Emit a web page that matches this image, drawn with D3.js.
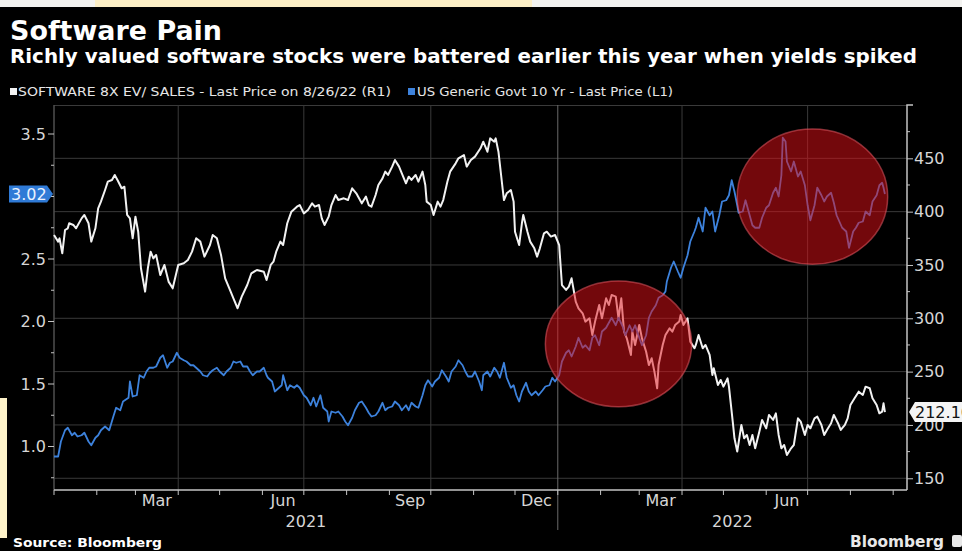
<!DOCTYPE html>
<html lang="en">
<head>
<meta charset="utf-8">
<title>Software Pain</title>
<script src="https://cdn.jsdelivr.net/npm/d3@7"></script>
<style>
  body { margin: 0; background: #000; }
  svg { display: block; }
</style>
</head>
<body>
<svg id="chart" width="962" height="551"></svg>
<script>

//DATA
//software 8x EV/sales basket, right axis
var software = [
  ["2021-01-01",378.1],["2021-01-04",371.9],["2021-01-05",375.0],["2021-01-07",360.9],["2021-01-09",382.8],["2021-01-11",384.4],
  ["2021-01-12",389.1],["2021-01-15",387.5],["2021-01-17",384.4],["2021-01-21",393.7],["2021-01-23",396.9],["2021-01-26",389.1],
  ["2021-01-28",371.9],["2021-01-31",384.4],["2021-02-02",403.1],["2021-02-04",409.4],["2021-02-07",420.3],["2021-02-09",428.1],
  ["2021-02-12",429.7],["2021-02-14",434.4],["2021-02-16",429.7],["2021-02-19",421.9],["2021-02-21",423.4],["2021-02-23",396.9],
  ["2021-02-25",393.7],["2021-02-27",375.0],["2021-03-01",395.3],["2021-03-03",381.2],["2021-03-05",346.9],["2021-03-08",325.0],
  ["2021-03-10",346.9],["2021-03-12",362.5],["2021-03-14",356.2],["2021-03-16",359.4],["2021-03-19",340.6],["2021-03-22",350.0],
  ["2021-03-25",334.4],["2021-03-28",328.1],["2021-04-01",350.0],["2021-04-05",351.6],["2021-04-08",354.7],["2021-04-11",362.5],
  ["2021-04-14",375.0],["2021-04-17",371.9],["2021-04-20",357.8],["2021-04-24",368.7],["2021-04-26",378.1],["2021-04-29",375.0],
  ["2021-05-02",359.4],["2021-05-05",337.5],["2021-05-09",325.0],["2021-05-11",318.7],["2021-05-14",309.4],["2021-05-17",320.3],
  ["2021-05-21",331.2],["2021-05-24",342.2],["2021-05-28",345.3],["2021-06-02",343.7],["2021-06-04",335.9],["2021-06-07",350.0],
  ["2021-06-09",353.1],["2021-06-11",362.5],["2021-06-14",371.9],["2021-06-16",368.7],["2021-06-19",389.1],["2021-06-22",400.0],
  ["2021-06-26",404.7],["2021-06-28",406.2],["2021-07-01",398.4],["2021-07-04",401.6],["2021-07-07",407.8],["2021-07-09",404.7],
  ["2021-07-12",406.2],["2021-07-14",393.7],["2021-07-16",387.5],["2021-07-19",395.3],["2021-07-21",406.2],["2021-07-24",415.6],
  ["2021-07-26",410.9],["2021-07-30",412.5],["2021-08-02",410.9],["2021-08-05",421.9],["2021-08-08",417.2],["2021-08-10",412.5],
  ["2021-08-12",407.8],["2021-08-15",414.1],["2021-08-17",406.2],["2021-08-19",404.7],["2021-08-22",415.6],["2021-08-24",425.0],
  ["2021-08-27",431.2],["2021-08-29",437.5],["2021-08-31",434.4],["2021-09-03",442.2],["2021-09-05",448.4],["2021-09-08",442.2],
  ["2021-09-10",435.9],["2021-09-13",426.6],["2021-09-15",432.8],["2021-09-17",429.7],["2021-09-20",434.4],["2021-09-22",428.1],
  ["2021-09-25",437.5],["2021-09-27",425.0],["2021-09-28",409.4],["2021-10-01",406.2],["2021-10-03",396.9],["2021-10-06",409.4],
  ["2021-10-08",404.7],["2021-10-10",410.9],["2021-10-13",428.1],["2021-10-15",437.5],["2021-10-19",445.3],["2021-10-21",450.0],
  ["2021-10-25",453.1],["2021-10-27",442.2],["2021-10-30",448.4],["2021-11-02",451.6],["2021-11-06",459.4],["2021-11-08",465.6],
  ["2021-11-11",456.2],["2021-11-13",468.7],["2021-11-16",465.6],["2021-11-17",468.7],["2021-11-19",456.2],["2021-11-22",421.9],
  ["2021-11-23",410.9],["2021-11-25",417.2],["2021-11-28",420.3],["2021-11-30",409.4],["2021-12-01",381.2],["2021-12-04",368.7],
  ["2021-12-06",389.1],["2021-12-07",396.9],["2021-12-10",381.2],["2021-12-12",371.9],["2021-12-15",365.6],["2021-12-17",357.8],
  ["2021-12-19",365.6],["2021-12-22",379.7],["2021-12-24",381.2],["2021-12-27",376.6],["2021-12-30",378.1],["2022-01-02",368.7],
  ["2022-01-04",331.2],["2022-01-07",326.6],["2022-01-09",329.7],["2022-01-11",337.5],["2022-01-14",315.6],["2022-01-16",309.4],
  ["2022-01-19",304.7],["2022-01-21",296.9],["2022-01-24",300.0],["2022-01-26",284.4],["2022-01-28",296.9],["2022-01-31",312.5],
  ["2022-02-02",300.0],["2022-02-05",318.7],["2022-02-07",312.5],["2022-02-09",321.9],["2022-02-12",320.3],["2022-02-14",300.0],
  ["2022-02-16",318.7],["2022-02-18",287.5],["2022-02-20",281.2],["2022-02-23",265.6],["2022-02-24",287.5],["2022-02-26",275.0],
  ["2022-03-01",293.7],["2022-03-03",281.2],["2022-03-06",268.7],["2022-03-08",256.2],["2022-03-10",262.5],["2022-03-12",250.0],
  ["2022-03-14",234.4],["2022-03-15",256.2],["2022-03-18",275.0],["2022-03-20",284.4],["2022-03-23",290.6],["2022-03-25",287.5],
  ["2022-03-27",293.7],["2022-03-30",296.9],["2022-03-31",303.1],["2022-04-02",293.7],["2022-04-05",300.0],["2022-04-07",278.1],
  ["2022-04-10",271.9],["2022-04-11",275.0],["2022-04-13",284.4],["2022-04-16",271.9],["2022-04-18",275.0],["2022-04-21",265.6],
  ["2022-04-23",246.9],["2022-04-24",253.1],["2022-04-27",237.5],["2022-04-29",242.2],["2022-05-01",235.9],["2022-05-04",243.7],
  ["2022-05-05",235.9],["2022-05-08",200.0],["2022-05-09",187.5],["2022-05-11",175.0],["2022-05-14",200.0],["2022-05-16",187.5],
  ["2022-05-18",190.6],["2022-05-20",181.2],["2022-05-22",190.6],["2022-05-24",178.1],["2022-05-27",193.7],["2022-05-29",204.7],
  ["2022-06-01",196.9],["2022-06-03",209.4],["2022-06-06",204.7],["2022-06-08",210.9],["2022-06-10",190.6],["2022-06-12",178.1],
  ["2022-06-14",181.2],["2022-06-16",171.9],["2022-06-19",178.1],["2022-06-21",181.2],["2022-06-24",206.2],["2022-06-26",203.1],
  ["2022-06-29",190.6],["2022-07-01",200.0],["2022-07-03",196.9],["2022-07-06",206.2],["2022-07-08",207.8],["2022-07-11",200.0],
  ["2022-07-13",190.6],["2022-07-15",195.3],["2022-07-18",201.6],["2022-07-20",209.4],["2022-07-23",201.6],["2022-07-25",195.3],
  ["2022-07-28",200.0],["2022-07-30",206.2],["2022-08-01",218.7],["2022-08-04",225.0],["2022-08-07",231.2],["2022-08-10",228.1],
  ["2022-08-12",235.9],["2022-08-15",234.4],["2022-08-17",225.0],["2022-08-20",218.7],["2022-08-22",210.9],["2022-08-24",212.5],
  ["2022-08-25",220.3],["2022-08-26",212.1]
];

//US generic govt 10 yr yield, left axis
var yields = [
  ["2021-01-01",0.92],["2021-01-04",0.92],["2021-01-06",1.04],["2021-01-09",1.13],["2021-01-11",1.15],["2021-01-14",1.09],
  ["2021-01-16",1.11],["2021-01-18",1.08],["2021-01-21",1.09],["2021-01-23",1.11],["2021-01-26",1.04],["2021-01-28",1.01],
  ["2021-01-31",1.07],["2021-02-02",1.09],["2021-02-04",1.13],["2021-02-07",1.16],["2021-02-10",1.13],["2021-02-13",1.24],
  ["2021-02-15",1.31],["2021-02-18",1.29],["2021-02-20",1.36],["2021-02-24",1.39],["2021-02-25",1.52],["2021-02-27",1.40],
  ["2021-03-02",1.41],["2021-03-04",1.57],["2021-03-07",1.55],["2021-03-09",1.60],["2021-03-11",1.63],["2021-03-14",1.63],
  ["2021-03-16",1.64],["2021-03-19",1.71],["2021-03-21",1.73],["2021-03-24",1.63],["2021-03-26",1.67],["2021-03-28",1.68],
  ["2021-03-31",1.75],["2021-04-02",1.71],["2021-04-05",1.69],["2021-04-07",1.68],["2021-04-10",1.65],["2021-04-12",1.65],
  ["2021-04-14",1.63],["2021-04-17",1.60],["2021-04-19",1.57],["2021-04-22",1.56],["2021-04-24",1.59],["2021-04-26",1.61],
  ["2021-04-29",1.63],["2021-05-01",1.60],["2021-05-04",1.57],["2021-05-06",1.60],["2021-05-09",1.63],["2021-05-11",1.68],
  ["2021-05-13",1.67],["2021-05-16",1.68],["2021-05-18",1.64],["2021-05-21",1.64],["2021-05-23",1.60],["2021-05-25",1.57],
  ["2021-05-28",1.60],["2021-05-30",1.60],["2021-06-02",1.63],["2021-06-04",1.57],["2021-06-05",1.55],["2021-06-08",1.52],
  ["2021-06-10",1.44],["2021-06-13",1.47],["2021-06-15",1.49],["2021-06-16",1.57],["2021-06-19",1.45],["2021-06-21",1.49],
  ["2021-06-24",1.47],["2021-06-26",1.49],["2021-06-28",1.47],["2021-07-01",1.41],["2021-07-03",1.39],["2021-07-06",1.33],
  ["2021-07-08",1.39],["2021-07-10",1.32],["2021-07-13",1.41],["2021-07-15",1.31],["2021-07-18",1.28],["2021-07-19",1.20],
  ["2021-07-21",1.28],["2021-07-24",1.27],["2021-07-26",1.28],["2021-07-29",1.24],["2021-07-31",1.20],["2021-08-02",1.17],
  ["2021-08-05",1.23],["2021-08-07",1.29],["2021-08-10",1.35],["2021-08-12",1.36],["2021-08-15",1.31],["2021-08-17",1.27],
  ["2021-08-19",1.24],["2021-08-22",1.25],["2021-08-24",1.28],["2021-08-27",1.35],["2021-08-29",1.29],["2021-08-31",1.31],
  ["2021-09-03",1.32],["2021-09-05",1.36],["2021-09-08",1.33],["2021-09-10",1.29],["2021-09-13",1.33],["2021-09-15",1.29],
  ["2021-09-17",1.35],["2021-09-20",1.32],["2021-09-22",1.31],["2021-09-25",1.41],["2021-09-27",1.49],["2021-09-29",1.53],
  ["2021-10-02",1.48],["2021-10-04",1.52],["2021-10-07",1.55],["2021-10-09",1.61],["2021-10-12",1.56],["2021-10-14",1.52],
  ["2021-10-16",1.60],["2021-10-19",1.64],["2021-10-21",1.69],["2021-10-24",1.65],["2021-10-26",1.60],["2021-10-28",1.56],
  ["2021-10-31",1.56],["2021-11-02",1.60],["2021-11-05",1.52],["2021-11-07",1.45],["2021-11-08",1.57],["2021-11-11",1.60],
  ["2021-11-13",1.56],["2021-11-16",1.63],["2021-11-18",1.60],["2021-11-20",1.55],["2021-11-23",1.67],["2021-11-25",1.55],
  ["2021-11-28",1.47],["2021-11-30",1.49],["2021-12-02",1.41],["2021-12-04",1.36],["2021-12-06",1.44],["2021-12-09",1.51],
  ["2021-12-11",1.44],["2021-12-13",1.41],["2021-12-16",1.44],["2021-12-18",1.41],["2021-12-21",1.45],["2021-12-23",1.48],
  ["2021-12-26",1.49],["2021-12-28",1.55],["2021-12-30",1.52],["2022-01-02",1.57],["2022-01-04",1.68],["2022-01-07",1.75],
  ["2022-01-09",1.77],["2022-01-11",1.72],["2022-01-14",1.80],["2022-01-16",1.87],["2022-01-19",1.79],["2022-01-21",1.81],
  ["2022-01-24",1.77],["2022-01-26",1.87],["2022-01-28",1.89],["2022-01-31",1.81],["2022-02-02",1.92],["2022-02-05",1.95],
  ["2022-02-07",1.99],["2022-02-09",2.03],["2022-02-12",1.97],["2022-02-14",2.03],["2022-02-17",1.96],["2022-02-19",1.89],
  ["2022-02-22",1.97],["2022-02-24",1.92],["2022-02-26",1.97],["2022-03-01",1.87],["2022-03-03",1.81],["2022-03-06",1.89],
  ["2022-03-08",2.03],["2022-03-10",2.08],["2022-03-13",2.13],["2022-03-15",2.19],["2022-03-18",2.21],["2022-03-20",2.24],
  ["2022-03-21",2.32],["2022-03-24",2.43],["2022-03-26",2.48],["2022-03-29",2.40],["2022-03-31",2.35],["2022-04-02",2.43],
  ["2022-04-05",2.53],["2022-04-07",2.64],["2022-04-10",2.72],["2022-04-11",2.75],["2022-04-13",2.83],["2022-04-16",2.72],
  ["2022-04-18",2.91],["2022-04-21",2.85],["2022-04-23",2.88],["2022-04-25",2.72],["2022-04-28",2.85],["2022-04-30",2.96],
  ["2022-05-03",2.97],["2022-05-05",3.01],["2022-05-07",3.13],["2022-05-09",3.04],["2022-05-11",2.93],["2022-05-12",2.87],
  ["2022-05-15",2.88],["2022-05-17",2.97],["2022-05-20",2.85],["2022-05-22",2.77],["2022-05-24",2.75],["2022-05-27",2.75],
  ["2022-05-29",2.83],["2022-06-01",2.91],["2022-06-03",2.93],["2022-06-06",3.03],["2022-06-08",3.07],["2022-06-10",3.00],
  ["2022-06-12",3.17],["2022-06-13",3.47],["2022-06-15",3.44],["2022-06-16",3.28],["2022-06-19",3.20],["2022-06-21",3.28],
  ["2022-06-24",3.16],["2022-06-26",3.20],["2022-06-29",3.09],["2022-07-01",2.93],["2022-07-03",2.81],["2022-07-06",2.93],
  ["2022-07-08",3.07],["2022-07-11",3.01],["2022-07-13",2.96],["2022-07-15",3.00],["2022-07-18",3.03],["2022-07-20",2.95],
  ["2022-07-22",2.85],["2022-07-24",2.80],["2022-07-26",2.75],["2022-07-29",2.72],["2022-07-31",2.59],["2022-08-03",2.72],
  ["2022-08-05",2.75],["2022-08-07",2.79],["2022-08-10",2.80],["2022-08-12",2.88],["2022-08-15",2.85],["2022-08-17",2.96],
  ["2022-08-20",3.01],["2022-08-22",3.09],["2022-08-24",3.11],["2022-08-25",3.07],["2022-08-26",3.02]
];

//tick labels (3.0 sits under the last-value tag, so it only gets a tick)
var LEFT_TICKS = [1.0, 1.5, 2.0, 2.5, 3.5];
var LEFT_MINOR = [0.75, 1.25, 1.75, 2.25, 2.75, 3.0, 3.25];
var RIGHT_TICKS = [150, 200, 250, 300, 350, 400, 450];
var RIGHT_MINOR = [175, 225, 275, 325, 375, 425, 475];
var MONTH_LABELS = [["2021-03", "Mar"], ["2021-06", "Jun"], ["2021-09", "Sep"], ["2021-12", "Dec"], ["2022-03", "Mar"], ["2022-06", "Jun"]];
var YEAR_LABELS = [["2021", "2021-01-01", "2022-01-01"], ["2022", "2022-01-01", "2022-09-11"]];

//red circles drawn on top: date span and right-axis value span
var HIGHLIGHTS = [
  {from: "2021-12-23", to: "2022-04-08", low: 217, high: 335},
  {from: "2022-05-11", to: "2022-08-28", low: 350.6, high: 477.5}
];

//text
var TITLE = "Software Pain";
var SUBTITLE = "Richly valued software stocks were battered earlier this year when yields spiked";
var LEGEND = ["SOFTWARE 8X EV/ SALES - Last Price on 8/26/22 (R1)", "US Generic Govt 10 Yr - Last Price (L1)"];

//CONSTANTS
var LEFT = 54, RIGHT = 907, TOP = 105, BOTTOM = 490;
var WHITE = "#f2f2f2";
var BLUE = "#3d82dc";
var GRID = "#3a3a3a";
var AXIS = "#c4c4c4";
var LABEL = "#d6d6d6";
var FONT = "'DejaVu Sans', Verdana, sans-serif";

var parse = d3.timeParse("%Y-%m-%d");
var svg = d3.select("#chart");

//scales
var x = d3.scaleTime()
  .domain([parse("2021-01-01"), parse("2022-09-11")])
  .range([LEFT, RIGHT]);
var yL = d3.scaleLinear().domain([0.652, 3.732]).range([BOTTOM, TOP]);
var yR = d3.scaleLinear().domain([139, 500]).range([BOTTOM, TOP]);

//page edges (cream/yellow strips around the black panel)
svg.append("rect").attr("x", 0).attr("y", 0).attr("width", 962).attr("height", 551).attr("fill", "#000");
svg.append("rect").attr("x", 0).attr("y", 0).attr("width", 962).attr("height", 7).attr("fill", "#f3f3f1");
svg.append("rect").attr("x", 95).attr("y", 0).attr("width", 437).attr("height", 7).attr("fill", "#fcefc6");
svg.append("rect").attr("x", 0).attr("y", 398).attr("width", 7).attr("height", 140).attr("fill", "#fdf2c9");

//titles
svg.append("text").attr("x", 10).attr("y", 40)
  .attr("textLength", 212).attr("lengthAdjust", "spacingAndGlyphs")
  .style("font", "bold 26px " + FONT).attr("fill", "#fff").text(TITLE);
svg.append("text").attr("x", 10).attr("y", 63)
  .attr("textLength", 907).attr("lengthAdjust", "spacingAndGlyphs")
  .style("font", "bold 20px " + FONT).attr("fill", "#fff").text(SUBTITLE);

//legend
var legendX = [[10, 18, 373, WHITE], [408, 417, 256, BLUE]];
legendX.forEach(function (l, i) {
  svg.append("rect").attr("x", l[0]).attr("y", 88).attr("width", 7).attr("height", 7).attr("fill", l[3]);
  svg.append("text").attr("x", l[1]).attr("y", 96)
    .attr("textLength", l[2]).attr("lengthAdjust", "spacingAndGlyphs")
    .style("font", "12px " + FONT).attr("fill", "#e6e6e6").text(LEGEND[i]);
});

//gridlines
var grid = svg.append("g").attr("stroke", GRID).attr("stroke-width", 1);
RIGHT_TICKS.forEach(function (v) {
  grid.append("line").attr("x1", LEFT).attr("x2", RIGHT).attr("y1", yR(v)).attr("y2", yR(v));
});
grid.append("line").attr("x1", LEFT).attr("x2", RIGHT).attr("y1", TOP + 0.5).attr("y2", TOP + 0.5);
x.ticks(d3.timeMonth.every(3)).forEach(function (d) {
  var isYear = d.getMonth() == 0 && d.getFullYear() == 2022;
  grid.append("line").attr("x1", x(d)).attr("x2", x(d)).attr("y1", TOP)
    .attr("y2", isYear ? 530 : BOTTOM)
    .attr("stroke", isYear ? "#6a6a6a" : GRID);
});
grid.append("line").attr("x1", LEFT).attr("x2", LEFT).attr("y1", TOP).attr("y2", BOTTOM).attr("stroke", "#5a5a5a");

//series lines
var lineR = d3.line().x(function (d) { return x(parse(d[0])); }).y(function (d) { return yR(d[1]); });
var lineL = d3.line().x(function (d) { return x(parse(d[0])); }).y(function (d) { return yL(d[1]); });

svg.append("path").datum(software).attr("d", lineR)
  .attr("fill", "none").attr("stroke", WHITE).attr("stroke-width", 2).attr("stroke-linejoin", "round");
svg.append("path").datum(yields).attr("d", lineL)
  .attr("fill", "none").attr("stroke", BLUE).attr("stroke-width", 1.8).attr("stroke-linejoin", "round");

//red circles over the lines
HIGHLIGHTS.forEach(function (h) {
  var x0 = x(parse(h.from)), x1 = x(parse(h.to));
  var y0 = yR(h.high), y1 = yR(h.low);
  svg.append("ellipse")
    .attr("cx", (x0 + x1) / 2).attr("cy", (y0 + y1) / 2)
    .attr("rx", (x1 - x0) / 2).attr("ry", (y1 - y0) / 2)
    .attr("fill", "rgba(225,16,24,0.51)")
    .attr("stroke", "rgba(235,90,100,0.55)").attr("stroke-width", 1.5);
});

//bottom axis
svg.append("line").attr("x1", LEFT).attr("x2", RIGHT).attr("y1", BOTTOM).attr("y2", BOTTOM)
  .attr("stroke", AXIS).attr("stroke-width", 1.5);
x.ticks(d3.timeMonth.every(1)).forEach(function (d) {
  svg.append("line").attr("x1", x(d)).attr("x2", x(d)).attr("y1", BOTTOM).attr("y2", BOTTOM + 5)
    .attr("stroke", AXIS);
});
MONTH_LABELS.forEach(function (m) {
  var start = d3.timeParse("%Y-%m")(m[0]);
  var mid = (x(start) + x(d3.timeMonth.offset(start, 1))) / 2;
  svg.append("text").attr("x", mid).attr("y", 506).attr("text-anchor", "middle")
    .style("font", "16px " + FONT).attr("fill", LABEL).text(m[1]);
});
YEAR_LABELS.forEach(function (y) {
  var mid = (x(parse(y[1])) + x(parse(y[2]))) / 2;
  svg.append("text").attr("x", mid).attr("y", 527).attr("text-anchor", "middle")
    .style("font", "16px " + FONT).attr("fill", LABEL).text(y[0]);
});

//left axis (yield)
LEFT_MINOR.forEach(function (v) {
  svg.append("line").attr("x1", LEFT - 3).attr("x2", LEFT).attr("y1", yL(v)).attr("y2", yL(v)).attr("stroke", AXIS);
});
LEFT_TICKS.forEach(function (v) {
  svg.append("line").attr("x1", LEFT - 6).attr("x2", LEFT).attr("y1", yL(v)).attr("y2", yL(v)).attr("stroke", AXIS);
  svg.append("text").attr("x", LEFT - 8).attr("y", yL(v)).attr("dy", "0.36em").attr("text-anchor", "end")
    .style("font", "16px " + FONT).attr("fill", LABEL).text(d3.format(".1f")(v));
});

//right axis (software)
var axisR = d3.axisRight(yR).tickValues(RIGHT_TICKS).tickSize(6).tickSizeOuter(0).tickPadding(1);
var gR = svg.append("g").attr("transform", "translate(" + RIGHT + ",0)").call(axisR);
gR.select(".domain").remove();
gR.selectAll("line").attr("stroke", AXIS);
gR.selectAll("text").style("font", "16px " + FONT).attr("fill", LABEL);
RIGHT_MINOR.forEach(function (v) {
  svg.append("line").attr("x1", RIGHT).attr("x2", RIGHT + 3).attr("y1", yR(v)).attr("y2", yR(v)).attr("stroke", AXIS);
});
svg.append("path").attr("d", "M" + (RIGHT + 6) + "," + TOP + "H" + RIGHT + "V" + BOTTOM)
  .attr("fill", "none").attr("stroke", AXIS).attr("stroke-width", 1.5);

//last value tags
var lastYield = yields[yields.length - 1][1];
var lastSoft = software[software.length - 1][1];

var ty = yL(lastYield);
svg.append("path")
  .attr("d", "M9," + (ty - 8.5) + "H47L53," + ty + "L47," + (ty + 8.5) + "H9Z")
  .attr("fill", "#2f7ad6");
svg.append("text").attr("x", 11).attr("y", ty).attr("dy", "0.36em")
  .style("font", "16px " + FONT).attr("fill", "#eaf2ff").text(d3.format(".2f")(lastYield));

var sy = yR(lastSoft);
svg.append("path")
  .attr("d", "M909," + sy + "L915," + (sy - 10) + "H970V" + (sy + 10) + "H915Z")
  .attr("fill", "#f4f4f4");
svg.append("text").attr("x", 915).attr("y", sy).attr("dy", "0.36em")
  .style("font", "16px " + FONT).attr("fill", "#111").text(d3.format(".2f")(lastSoft));

//footer
svg.append("text").attr("x", 13).attr("y", 547)
  .attr("textLength", 149).attr("lengthAdjust", "spacingAndGlyphs")
  .style("font", "bold 13px " + FONT).attr("fill", "#fff").text("Source: Bloomberg");
svg.append("text").attr("x", 850).attr("y", 547)
  .attr("textLength", 94).attr("lengthAdjust", "spacingAndGlyphs")
  .style("font", "bold 16px " + FONT).attr("fill", "#e8e8e8").text("Bloomberg");
svg.append("rect").attr("x", 952).attr("y", 535).attr("width", 10).attr("height", 12).attr("rx", 2)
  .attr("fill", "#e8e8e8");

</script>
</body>
</html>
